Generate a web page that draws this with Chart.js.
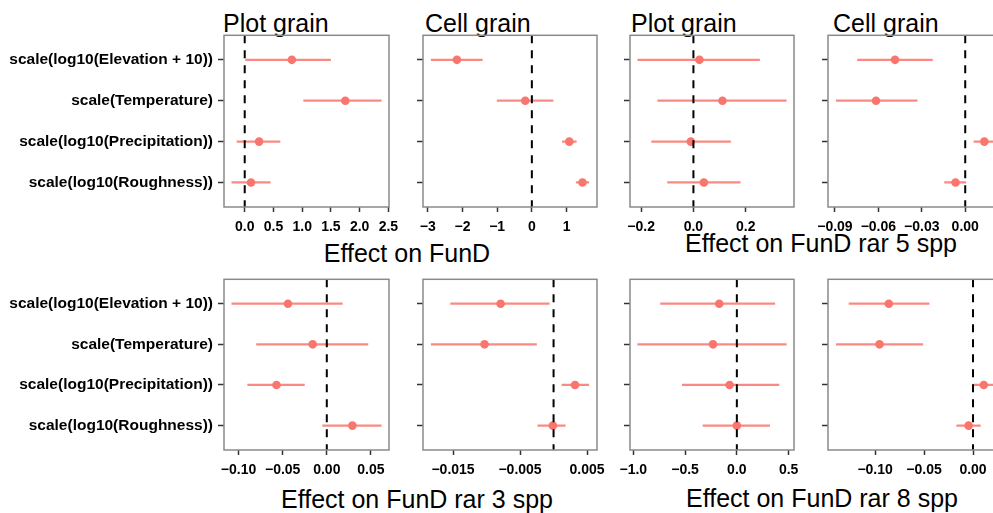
<!DOCTYPE html>
<html>
<head>
<meta charset="utf-8">
<script src="https://cdn.jsdelivr.net/npm/chart.js@4.4.1/dist/chart.umd.min.js"></script>
<style>
  html, body { margin: 0; padding: 0; background: #fff; }
  body { width: 993px; height: 513px; position: relative; overflow: hidden;
         font-family: 'Liberation Sans', Arial, Helvetica, sans-serif; }
  canvas { position: absolute; }
  .title { position: absolute; font-size: 25px; line-height: 1; color: #000; white-space: nowrap; }
  .xlab  { position: absolute; font-size: 25px; line-height: 1; color: #000; white-space: nowrap;
           transform: translateX(-50%); }
</style>
</head>
<body>

<div class="title" style="left:223px; top:11px;">Plot grain</div>
<div class="title" style="left:425px; top:11px;">Cell grain</div>
<div class="title" style="left:631px; top:11px;">Plot grain</div>
<div class="title" style="left:833px; top:11px;">Cell grain</div>

<div class="xlab" style="left:407px; top:241px;">Effect on FunD</div>
<div class="xlab" style="left:821px; top:231px;">Effect on FunD rar 5 spp</div>
<div class="xlab" style="left:417px; top:487px;">Effect on FunD rar 3 spp</div>
<div class="xlab" style="left:822px; top:486px;">Effect on FunD rar 8 spp</div>

<script>
/* ── coefficient estimates with 95% intervals ── */
const predictors = [
    'scale(log10(Elevation + 10))',
    'scale(Temperature)',
    'scale(log10(Precipitation))',
    'scale(log10(Roughness))'
];

// FunD
const fundPlotEst = [0.82, 1.75, 0.25, 0.11];
const fundPlotLo  = [0.01, 1.02, -0.14, -0.23];
const fundPlotHi  = [1.50, 2.38, 0.62, 0.45];
const fundCellEst = [-2.16, -0.19, 1.08, 1.46];
const fundCellLo  = [-2.91, -1.01, 0.87, 1.27];
const fundCellHi  = [-1.42, 0.62, 1.29, 1.65];

// FunD rar 5 spp
const rar5PlotEst = [0.023, 0.111, -0.010, 0.040];
const rar5PlotLo  = [-0.214, -0.138, -0.161, -0.100];
const rar5PlotHi  = [0.254, 0.356, 0.143, 0.180];
const rar5CellEst = [-0.0485, -0.0616, 0.0132, -0.0067];
const rar5CellLo  = [-0.0746, -0.0893, 0.0058, -0.0145];
const rar5CellHi  = [-0.0224, -0.0330, 0.0206, 0.0006];

// FunD rar 3 spp
const rar3PlotEst = [-0.044, -0.016, -0.057, 0.029];
const rar3PlotLo  = [-0.108, -0.080, -0.090, -0.005];
const rar3PlotHi  = [0.018, 0.047, -0.025, 0.062];
const rar3CellEst = [-0.0079, -0.0103, 0.0032, -0.0001];
const rar3CellLo  = [-0.0154, -0.0183, 0.0012, -0.0024];
const rar3CellHi  = [-0.0006, -0.0025, 0.0053, 0.0018];

// FunD rar 8 spp
const rar8PlotEst = [-0.17, -0.23, -0.07, 0.00];
const rar8PlotLo  = [-0.74, -0.96, -0.53, -0.33];
const rar8PlotHi  = [0.37, 0.48, 0.41, 0.32];
const rar8CellEst = [-0.086, -0.0955, 0.011, -0.0045];
const rar8CellLo  = [-0.127, -0.140, -0.0006, -0.017];
const rar8CellHi  = [-0.0445, -0.051, 0.0225, 0.0078];

// axis breaks
const fundPlotTicks = [0, 0.5, 1, 1.5, 2, 2.5];
const fundCellTicks = [-3, -2, -1, 0, 1];
const rar5PlotTicks = [-0.2, 0, 0.2];
const rar5CellTicks = [-0.09, -0.06, -0.03, 0];
const rar3PlotTicks = [-0.10, -0.05, 0, 0.05];
const rar3CellTicks = [-0.015, -0.005, 0.005];
const rar8PlotTicks = [-1.0, -0.5, 0, 0.5];
const rar8CellTicks = [-0.10, -0.05, 0];

/* ── shared styling ── */
const FONT = "'Liberation Sans', Arial, Helvetica, sans-serif";
const RED = '#F8766D';
const RED_BAR = 'rgba(248,118,109,0.85)';

function signedFixed(decimals) {
    return v => (v < -1e-12 ? '\u2212' : '') + Math.abs(v).toFixed(decimals);
}

/* dashed zero line + grey panel border */
const panelDecor = {
    id: 'panelDecor',
    afterDatasetsDraw(chart) {
        const { ctx, chartArea: a } = chart;
        const x0 = chart.scales.x.getPixelForValue(0);
        ctx.save();
        ctx.setLineDash([8, 7]);
        ctx.strokeStyle = '#000';
        ctx.lineWidth = 2;
        ctx.beginPath();
        ctx.moveTo(x0, a.top);
        ctx.lineTo(x0, a.bottom);
        ctx.stroke();
        ctx.restore();
    },
    afterDraw(chart) {
        const { ctx, chartArea: a } = chart;
        ctx.save();
        ctx.strokeStyle = '#8a8a8a';
        ctx.lineWidth = 1.5;
        ctx.strokeRect(a.left, a.top, a.right - a.left, a.bottom - a.top);
        ctx.restore();
    }
};

/* ===================== FOREST PANEL ===================== */
function forestPanel(box, est, lo, hi, ticks, decimals, showLabels) {
    const padL = showLabels ? box.left : 30;
    const padT = 4, padR = 26, padB = 34;

    const canvas = document.createElement('canvas');
    canvas.width = padL + box.w + padR;
    canvas.height = padT + box.h + padB;
    canvas.style.left = (box.left - padL) + 'px';
    canvas.style.top = (box.top - padT) + 'px';
    document.body.appendChild(canvas);

    const rows = predictors.map((_, i) => i + 1);
    const xLo = Math.min(...lo), xHi = Math.max(...hi);
    const span = xHi - xLo;

    const datasets = [{
        data: est.map((v, i) => ({ x: v, y: rows[i] })),
        showLine: false,
        pointRadius: 4.3,
        pointBackgroundColor: RED,
        pointBorderWidth: 0
    }];
    lo.forEach((l, i) => datasets.push({
        data: [{ x: l, y: rows[i] }, { x: hi[i], y: rows[i] }],
        showLine: true,
        pointRadius: 0,
        borderColor: RED_BAR,
        borderWidth: 2.2
    }));

    const tickFont = { family: FONT, size: 14, weight: 'bold' };

    new Chart(canvas.getContext('2d'), {
        type: 'scatter',
        data: { datasets },
        options: {
            responsive: false,
            animation: false,
            layout: { padding: { top: padT, right: padR, left: 0, bottom: 0 } },
            plugins: { legend: { display: false }, tooltip: { enabled: false } },
            scales: {
                x: {
                    type: 'linear',
                    min: xLo - 0.05 * span,
                    max: xHi + 0.05 * span,
                    afterBuildTicks: s => { s.ticks = ticks.map(v => ({ value: v })); },
                    afterFit: s => { s.height = padB; s.paddingLeft = 0; s.paddingRight = 0; },
                    border: { display: false },
                    grid: { drawOnChartArea: false, drawTicks: true, tickLength: 5, tickColor: '#333', tickWidth: 1.5 },
                    ticks: { autoSkip: false, maxRotation: 0, padding: 7, color: '#000', font: tickFont,
                             callback: signedFixed(decimals) }
                },
                y: {
                    type: 'linear',
                    reverse: true,
                    min: 0.4,
                    max: 4.6,
                    afterBuildTicks: s => { s.ticks = rows.map(v => ({ value: v })); },
                    afterFit: s => { s.width = padL; s.paddingTop = 0; s.paddingBottom = 0; },
                    border: { display: false },
                    grid: { drawOnChartArea: false, drawTicks: true, tickLength: 6, tickColor: '#333', tickWidth: 1.5 },
                    ticks: { autoSkip: false, padding: 5, color: '#000', font: { family: FONT, size: 15.5, weight: 'bold' },
                             callback: v => showLabels ? predictors[v - 1] : '' }
                }
            }
        },
        plugins: [panelDecor]
    });
}

forestPanel({ left: 224, top: 35, w: 165, h: 172 }, fundPlotEst, fundPlotLo, fundPlotHi, fundPlotTicks, 1, true);
forestPanel({ left: 423, top: 35, w: 174, h: 172 }, fundCellEst, fundCellLo, fundCellHi, fundCellTicks, 0, false);
forestPanel({ left: 630, top: 35, w: 164, h: 172 }, rar5PlotEst, rar5PlotLo, rar5PlotHi, rar5PlotTicks, 1, false);
forestPanel({ left: 828, top: 35, w: 175, h: 172 }, rar5CellEst, rar5CellLo, rar5CellHi, rar5CellTicks, 2, false);
forestPanel({ left: 224, top: 279, w: 165, h: 171 }, rar3PlotEst, rar3PlotLo, rar3PlotHi, rar3PlotTicks, 2, true);
forestPanel({ left: 423, top: 279, w: 174, h: 171 }, rar3CellEst, rar3CellLo, rar3CellHi, rar3CellTicks, 3, false);
forestPanel({ left: 630, top: 279, w: 164, h: 171 }, rar8PlotEst, rar8PlotLo, rar8PlotHi, rar8PlotTicks, 1, false);
forestPanel({ left: 828, top: 279, w: 175, h: 171 }, rar8CellEst, rar8CellLo, rar8CellHi, rar8CellTicks, 2, false);
</script>
</body>
</html>
